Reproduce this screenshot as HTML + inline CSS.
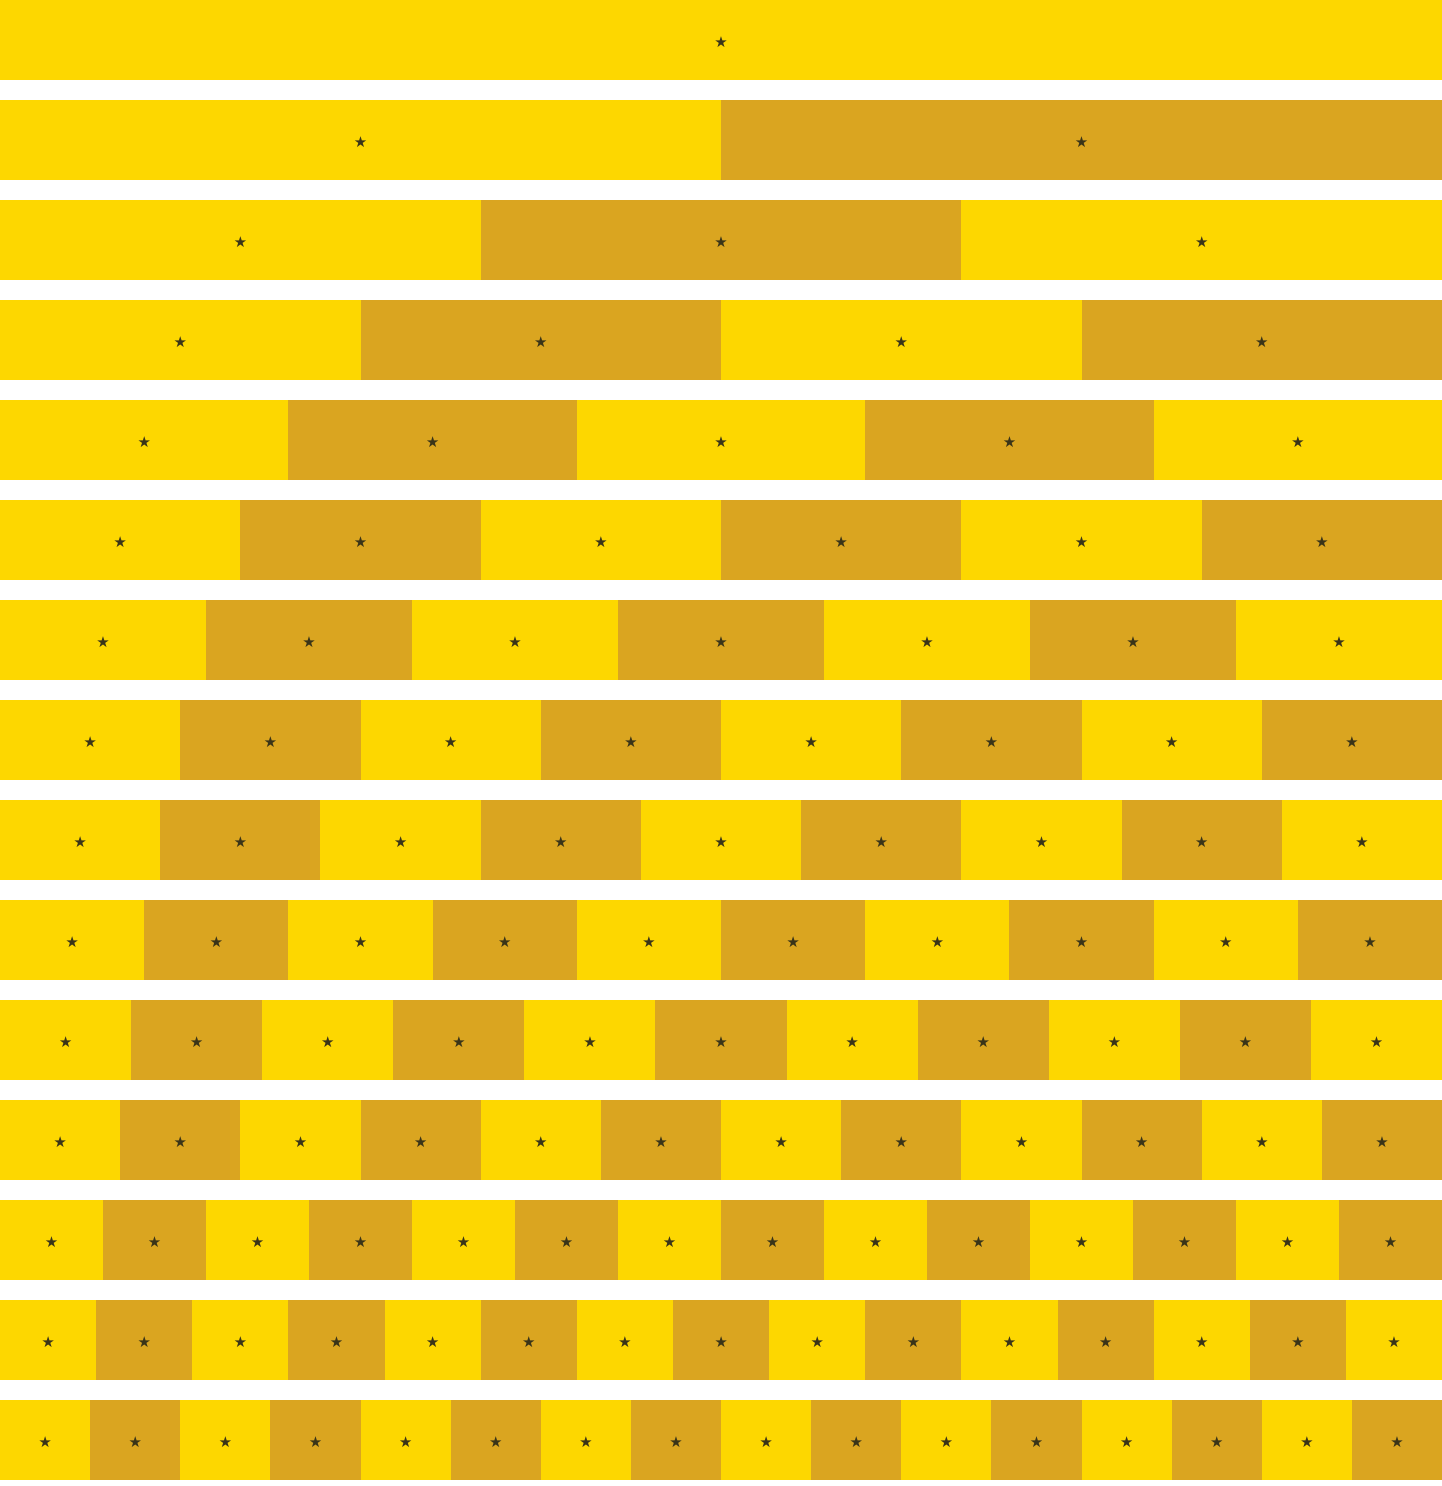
<!DOCTYPE html>
<html><head><meta charset="utf-8">
<style>
html,body{margin:0;padding:0;background:#fff;width:1442px;height:1486px;overflow:hidden;font-family:"Liberation Sans","DejaVu Sans",sans-serif}
.row{position:absolute;left:0;width:1442px;height:80px;display:flex}
.seg{flex:1 1 0;position:relative}
.star{position:absolute;left:50%;top:50%;transform:translate(-50%,-48%);margin-top:2px;font-size:15px;line-height:1;color:#3a3418;font-family:"DejaVu Sans",sans-serif}
</style></head>
<body>
<div id="chart"></div>
<script>
const rowCounts = [1,2,3,4,5,6,7,8,9,10,11,12,14,15,16];
const colorA = "#FDD700";
const colorB = "#DAA520";
const chart = document.getElementById('chart');
rowCounts.forEach(function(n, i){
  const row = document.createElement('div');
  row.className = 'row';
  row.style.top = (i * 100) + 'px';
  
  
  for (let j = 0; j < n; j++) {
    const seg = document.createElement('div');
    seg.className = 'seg';
    seg.style.background = (j % 2 === 0) ? colorA : colorB;
    
    
    const s = document.createElement('span');
    s.className = 'star';
    s.textContent = '★';
    
    
    seg.appendChild(s);
    row.appendChild(seg);
  }
  chart.appendChild(row);
});
</script>
</body></html>
